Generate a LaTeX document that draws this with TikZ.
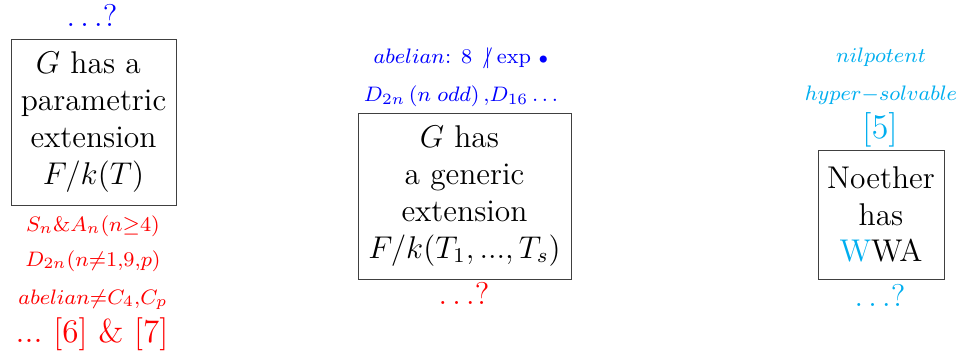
\documentclass[tikz,border=0pt]{standalone}
\usepackage{amsmath,amssymb}
\definecolor{cyanx}{RGB}{0,174,239}
\definecolor{bluex}{RGB}{0,0,255}
\definecolor{redx}{RGB}{255,0,0}
\newcommand{\mynotdiv}{\mathrel{\ooalign{$|$\cr\hidewidth$/$\hidewidth\cr}}}
\begin{document}
\begin{tikzpicture}[x=1pt,y=-1pt,
  boxnode/.style={draw=black!75, line width=0.8pt, align=center, font=\large, inner sep=0pt, scale=2.62},
  small/.style={anchor=base, font=\footnotesize, scale=2.62},
  large/.style={anchor=base, font=\large, scale=2.62}]
\useasboundingbox (0,0) rectangle (962,361);
% boxes
\node[boxnode, minimum width=63pt, minimum height=63.4pt] (param) at (93.5,122) {$G$ has a\ \mbox{}\\parametric\\extension\\$F/k(T)$};
\node[boxnode, minimum width=81.3pt, minimum height=63.4pt] (gen) at (464.5,196) {$G$ has\ \mbox{}\\a generic\\extension\\$F/k(T_1,...,T_s)$};
\node[boxnode, minimum width=48.1pt, minimum height=49.2pt] (noe) at (881,214.5) {Noether\\has\\\textcolor{cyanx}{W}WA};
% left labels
\node[large, text=bluex] (lq) at (92,27) {$\ldots?$};
\node[small, text=redx] (l1) at (93,231) {$S_n\&A_n(n{\geq}4)$};
\node[small, text=redx] (l2) at (93,266) {$D_{2n}(n{\neq}1{,}9{,}p)$};
\node[small, text=redx] (l3) at (93,304) {$abelian{\neq}C_4{,}C_p$};
\node[large, text=redx, scale=1.05] (l4) at (92,342) {...\ [6] \& [7]};
% center labels
\node[small, text=bluex] (c1) at (461,64) {$abelian$: $8\;\mynotdiv\exp$ $\scriptstyle\bullet$};
\node[small, text=bluex] (c2) at (461,102) {$D_{2n}\,(n\;odd)\,{,}D_{16}\ldots$};
\node[large, text=redx] (cq) at (464,304) {$\ldots?$};
% right labels
\node[small, text=cyanx] (r1) at (881,63) {$nilpotent$};
\node[small, text=cyanx] (r2) at (881,101) {$hyper{-}solvable$};
\node[large, text=cyanx, scale=1.1] (r3) at (880,139) {[5]};
\node[large, text=cyanx] (rq) at (880,306) {$\ldots?$};
\end{tikzpicture}
\end{document}
